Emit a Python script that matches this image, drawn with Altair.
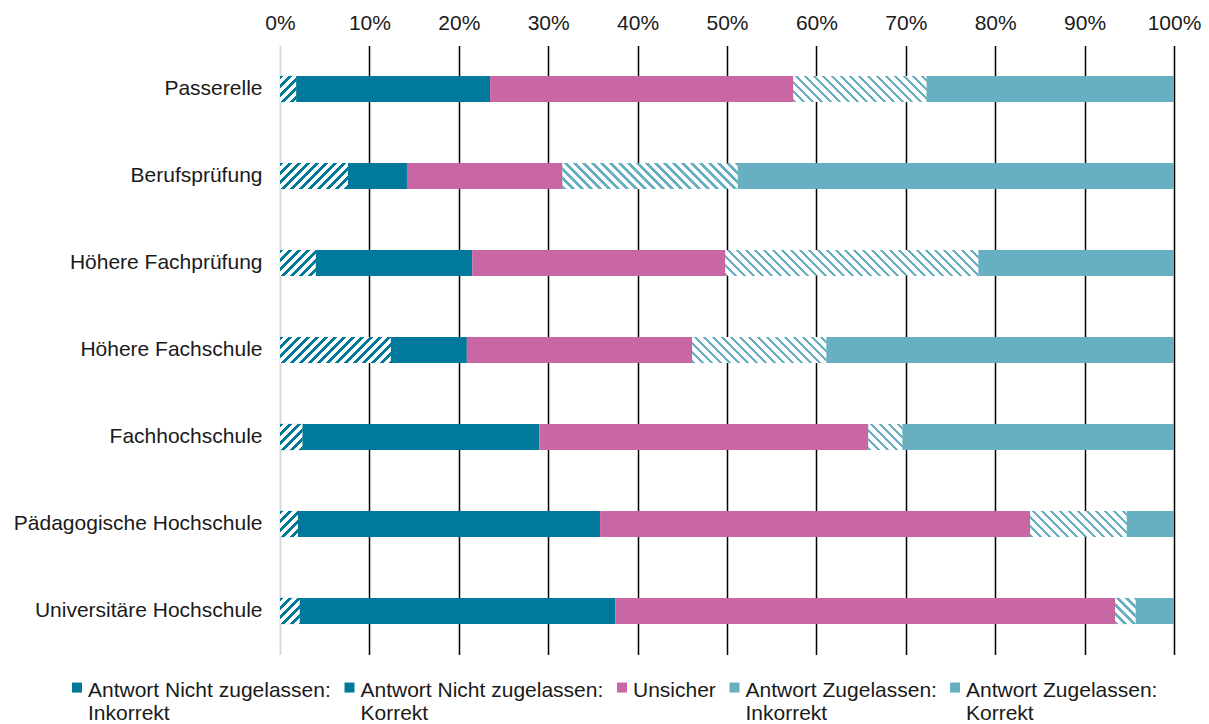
import altair as alt
import pandas as pd

categories = [
    "Passerelle",
    "Berufsprüfung",
    "Höhere Fachprüfung",
    "Höhere Fachschule",
    "Fachhochschule",
    "Pädagogische Hochschule",
    "Universitäre Hochschule",
]
series = [
    "Antwort Nicht zugelassen: Inkorrekt",
    "Antwort Nicht zugelassen: Korrekt",
    "Unsicher",
    "Antwort Zugelassen: Inkorrekt",
    "Antwort Zugelassen: Korrekt",
]
nz_inkorrekt = [1.8, 7.6, 4.0, 12.4, 2.5, 2.0, 2.2]
nz_korrekt = [21.7, 6.6, 17.5, 8.5, 26.5, 33.8, 35.3]
unsicher = [33.9, 17.4, 28.3, 25.2, 36.8, 48.1, 55.9]
z_inkorrekt = [14.9, 19.6, 28.3, 15.0, 3.8, 10.8, 2.3]
z_korrekt = [27.7, 48.8, 21.9, 38.9, 30.4, 5.3, 4.3]
x_ticks = [0, 10, 20, 30, 40, 50, 60, 70, 80, 90, 100]

colors = ["#00799A", "#00799A", "#C966A4", "#68AFC1", "#68AFC1"]
hatched = {series[0]: "/", series[3]: "\\"}

W, H = 894, 609
PAD_INNER = 0.7
FONT = "Liberation Sans"
TXT = "#1a1a1a"

rows = []
for i, cat in enumerate(categories):
    start = 0.0
    for s, vals in zip(series, [nz_inkorrekt, nz_korrekt, unsicher, z_inkorrekt, z_korrekt]):
        v = vals[i]
        rows.append({"category": cat, "series": s, "value": v, "start": start, "end": start + v})
        start += v
df = pd.DataFrame(rows)

bar_h = H / len(categories) * (1 - PAD_INNER)


def hatch_gradient(w, h, color, direction, period=9.0, frac=0.42):
    k = (w + h) / (w * w + h * h)
    if direction == "/":
        x1, y1, x2, y2 = 0.0, 0.0, k * w, k * h
    else:
        x1, y1, x2, y2 = 0.0, 1.0, k * w, 1.0 - k * h
    pt = period / (w + h)
    stops = []
    o = 0.0
    while o < 1.0:
        a = min(o + frac * pt, 1.0)
        b = min(o + pt, 1.0)
        stops += [(o, color), (a, color), (a, "#ffffff"), (b, "#ffffff")]
        o += pt
    return {
        "gradient": "linear",
        "x1": x1, "y1": y1, "x2": x2, "y2": y2,
        "stops": [{"offset": round(off, 6), "color": c} for off, c in stops],
    }


y_scale = alt.Scale(domain=categories, paddingInner=PAD_INNER, paddingOuter=PAD_INNER / 2)
x_scale = alt.Scale(domain=[0, 100], nice=False, zero=True)

x_axis = alt.Axis(
    orient="top",
    values=x_ticks,
    labelExpr="datum.value + '%'",
    title=None,
    ticks=False,
    domain=False,
    grid=True,
    gridColor={"condition": {"test": "datum.value === 0", "value": "#D9D9D9"}, "value": "#000000"},
    gridWidth={"condition": {"test": "datum.value === 0", "value": 2}, "value": 1.5},
    labelPadding=12,
    labelFlush=False,
    labelFontSize=21,
    labelFont=FONT,
    labelColor=TXT,
)
y_axis = alt.Axis(
    title=None,
    ticks=False,
    domain=False,
    grid=False,
    labelPadding=18,
    labelFontSize=21,
    labelFont=FONT,
    labelColor=TXT,
    labelLimit=0,
)

label_expr = (
    "indexof(datum.label, ':') > 0 ? "
    "[substring(datum.label, 0, indexof(datum.label, ':') + 1), "
    "substring(datum.label, indexof(datum.label, ':') + 2)] : [datum.label, ' ']"
)

base = alt.Chart(df).mark_bar().encode(
    x=alt.X("start:Q", scale=x_scale, axis=x_axis),
    x2="end:Q",
    y=alt.Y("category:N", sort=categories, scale=y_scale, axis=y_axis),
    color=alt.Color(
        "series:N",
        scale=alt.Scale(domain=series, range=colors),
        legend=alt.Legend(
            orient="none",
            legendX=-213.5,
            legendY=635,
            direction="horizontal",
            columns=5,
            columnPadding=7.5,
            title=None,
            labelFontSize=21,
            labelFont=FONT,
            labelColor=TXT,
            labelLimit=0,
            labelOffset=0.5,
            labelExpr=label_expr,
            symbolType="M-1,-1.74H1V0.26H-1Z",
            symbolSize=100,
            symbolStrokeWidth=0,
            padding=0,
        ),
    ),
)

layers = [base]
for i, cat in enumerate(categories):
    for j, s in enumerate(series):
        if s not in hatched:
            continue
        v = df[(df.category == cat) & (df.series == s)]["value"].iloc[0]
        w = v * W / 100.0
        grad = hatch_gradient(w, bar_h, colors[j], hatched[s])
        layers.append(
            alt.Chart(df)
            .transform_filter((alt.datum.category == cat) & (alt.datum.series == s))
            .mark_bar(fill=grad)
            .encode(
                x=alt.X("start:Q", scale=x_scale, axis=x_axis),
                x2="end:Q",
                y=alt.Y("category:N", sort=categories, scale=y_scale, axis=y_axis),
            )
        )

chart = (
    alt.layer(*layers)
    .properties(
        width=W,
        height=H,
        autosize=alt.AutoSizeParams(type="none"),
        padding={"left": 272, "top": 37.5, "right": 27, "bottom": 69.5},
        background="#ffffff",
    )
    .configure_view(stroke=None)
)

chart.save("out.html", embed_options={"renderer": "svg", "actions": False})
